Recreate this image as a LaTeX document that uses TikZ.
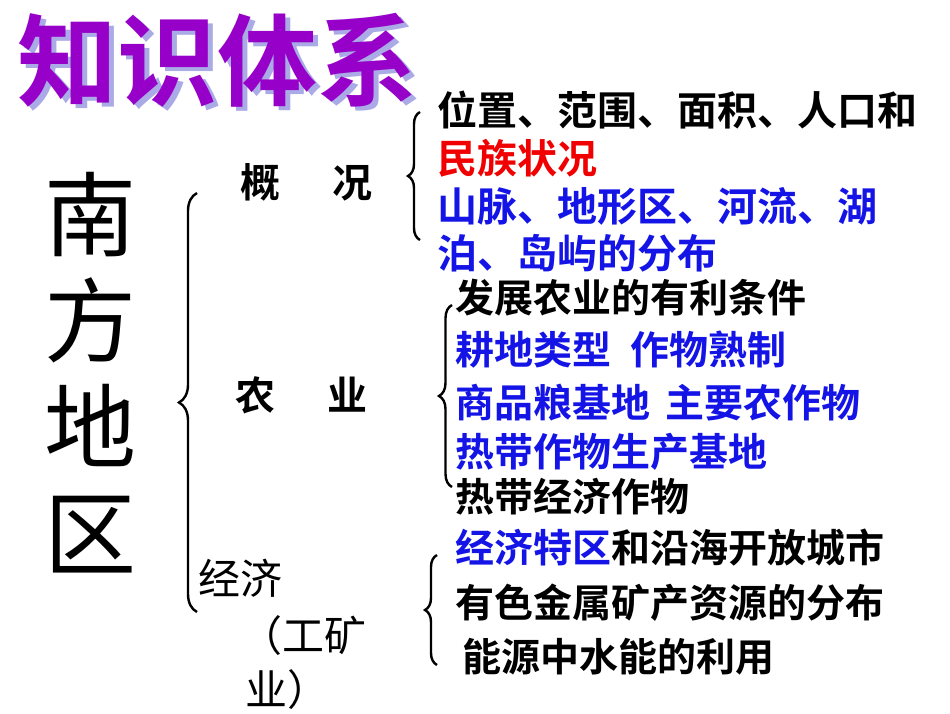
\documentclass[tikz,border=0pt]{standalone}
\usepackage{fontspec}
\setmainfont{Noto Sans CJK SC}
\newfontfamily\cjkb{Noto Sans CJK SC Bold}
\newfontfamily\cjkr{Noto Sans CJK SC}
\usetikzlibrary{decorations.pathreplacing}
\definecolor{tblue}{RGB}{20,20,230}
\definecolor{tred}{RGB}{240,0,0}
\definecolor{tpurple}{RGB}{150,0,200}
\definecolor{tshadow}{RGB}{170,170,230}
\begin{document}
\begin{tikzpicture}[x=1pt,y=-1pt,
  txt/.style={anchor=west,inner sep=0pt,font=\cjkb\fontsize{39}{44}\selectfont},
  big/.style={anchor=center,inner sep=0pt,font=\cjkr\fontsize{92}{100}\selectfont},
  br/.style={decorate,decoration={brace,amplitude=#1},line width=2.4pt}]
\useasboundingbox (0,0) rectangle (950,713);
% title
\node[inner sep=0pt,anchor=center,text=tshadow,font=\cjkb\fontsize{100}{100}\selectfont] (tsh) at (222,64) {知识体系};
\node[inner sep=0pt,anchor=center,text=tpurple,font=\cjkb\fontsize{100}{100}\selectfont] (title) at (217,60) {知识体系};
% big label
\node[big] (c1) at (90,215) {南};
\node[big] (c2) at (90,320) {方};
\node[big] (c3) at (90,425) {地};
\node[big] (c4) at (90,535) {区};
% braces
\coordinate (b1a) at (197,193); \coordinate (b1b) at (197,612);
\draw[br=18pt] (b1b) -- (b1a);
\coordinate (b2a) at (420,112); \coordinate (b2b) at (420,240);
\draw[br=12pt] (b2b) -- (b2a);
\coordinate (b3a) at (452,305); \coordinate (b3b) at (452,487);
\draw[br=13pt] (b3b) -- (b3a);
\coordinate (b4a) at (437,555); \coordinate (b4b) at (437,665);
\draw[br=12pt] (b4b) -- (b4a);
% mid labels
\node[txt,font=\cjkb\fontsize{40}{44}\selectfont] (g1) at (240,182) {概\hspace{1.3em}况};
\node[txt,font=\cjkb\fontsize{40}{44}\selectfont] (n1) at (235,395) {农\hspace{1.3em}业};
\node[txt,font=\cjkr\fontsize{42}{44}\selectfont] (j1) at (198,578) {经济};
\node[txt,font=\cjkr\fontsize{42}{44}\selectfont] (j2) at (240,636) {（工矿};
\node[txt,font=\cjkr\fontsize{42}{44}\selectfont] (j3) at (245,690) {业）};
% right texts
\node[txt,font=\cjkb\fontsize{40}{44}\selectfont] (r1) at (437,110) {位置、范围、面积、人口和};
\node[txt,text=tred,font=\cjkb\fontsize{40}{44}\selectfont] (r2) at (437,158) {民族状况};
\node[txt,text=tblue,font=\cjkb\fontsize{40}{44}\selectfont] (r3) at (437,206) {山脉、地形区、河流、湖};
\node[txt,text=tblue,font=\cjkb\fontsize{40}{44}\selectfont] (r4) at (437,253) {泊、岛屿的分布};
\node[txt] (s1) at (455,298) {发展农业的有利条件};
\node[txt,text=tblue] (s2) at (455,350) {耕地类型\hspace{0.5em}作物熟制};
\node[txt,text=tblue] (s3) at (455,403) {商品粮基地\hspace{0.4em}主要农作物};
\node[txt,text=tblue] (s4) at (455,452) {热带作物生产基地};
\node[txt] (s5) at (455,497) {热带经济作物};
\node[txt] (e1) at (455,548) {\textcolor{tblue}{经济特区}和沿海开放城市};
\node[txt] (e2) at (455,603) {有色金属矿产资源的分布};
\node[txt] (e3) at (462,657) {能源中水能的利用};
\end{tikzpicture}
\end{document}
